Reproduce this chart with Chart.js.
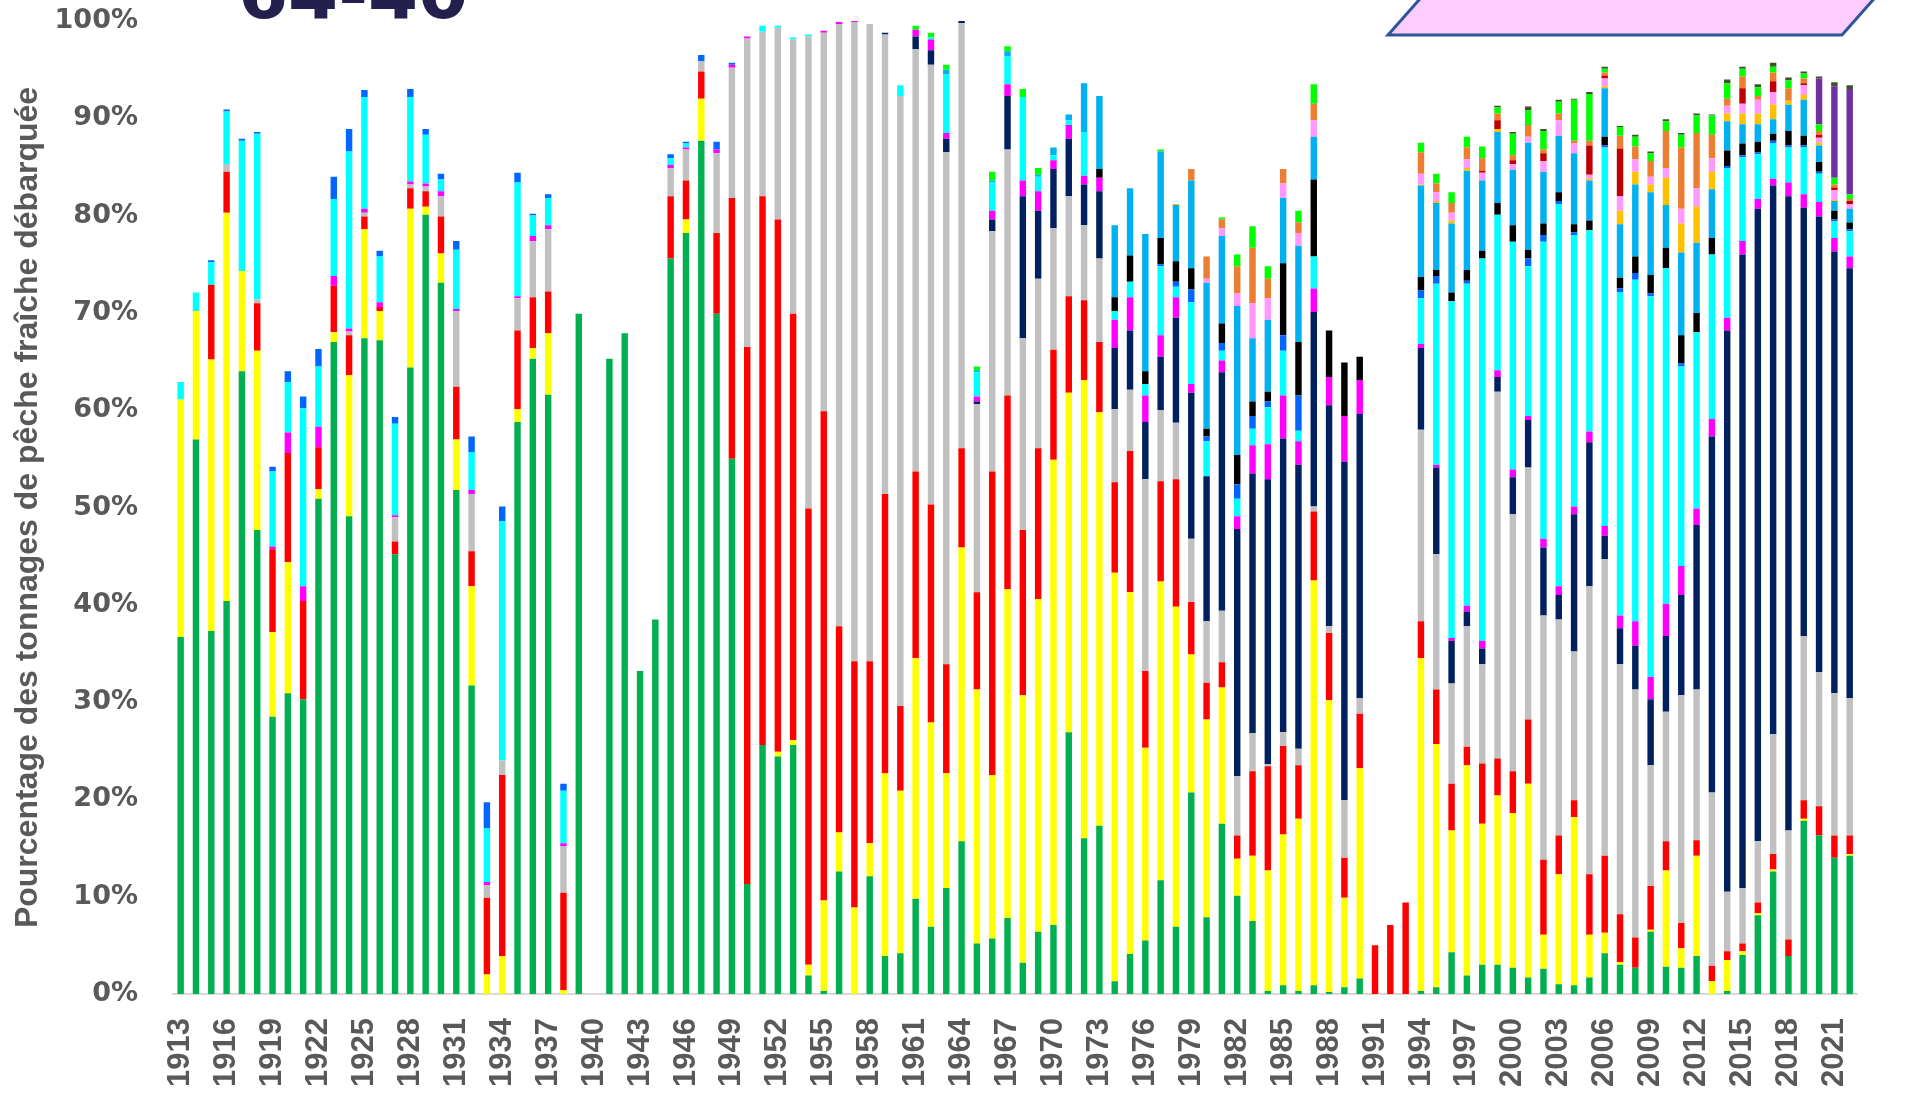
<!DOCTYPE html>
<html>
<head>
<meta charset="utf-8">
<script src="https://cdn.jsdelivr.net/npm/chart.js@4"></script>
<style>
  html, body { margin: 0; background: #fff; }
  #wrap { width: 1911px; height: 1101px; position: relative; }
</style>
</head>
<body>
<div id="wrap"><canvas id="chart"></canvas></div>
<script>
// années 1913 -> 2022
const years = [
  1913, 1914, 1915, 1916, 1917, 1918, 1919,
  1920, 1921, 1922, 1923, 1924, 1925, 1926, 1927, 1928, 1929,
  1930, 1931, 1932, 1933, 1934, 1935, 1936, 1937, 1938, 1939,
  1940, 1941, 1942, 1943, 1944, 1945, 1946, 1947, 1948, 1949,
  1950, 1951, 1952, 1953, 1954, 1955, 1956, 1957, 1958, 1959,
  1960, 1961, 1962, 1963, 1964, 1965, 1966, 1967, 1968, 1969,
  1970, 1971, 1972, 1973, 1974, 1975, 1976, 1977, 1978, 1979,
  1980, 1981, 1982, 1983, 1984, 1985, 1986, 1987, 1988, 1989,
  1990, 1991, 1992, 1993, 1994, 1995, 1996, 1997, 1998, 1999,
  2000, 2001, 2002, 2003, 2004, 2005, 2006, 2007, 2008, 2009,
  2010, 2011, 2012, 2013, 2014, 2015, 2016, 2017, 2018, 2019,
  2020, 2021, 2022
];

// libellés affichés sur l'axe des x (une année sur trois)
const tickYears = [
  1913, 1916, 1919, 1922, 1925, 1928, 1931, 1934, 1937, 1940, 1943, 1946, 1949,
  1952, 1955, 1958, 1961, 1964, 1967, 1970, 1973, 1976, 1979, 1982, 1985, 1988,
  1991, 1994, 1997, 2000, 2003, 2006, 2009, 2012, 2015, 2018, 2021
];
const yTicks = [0, 10, 20, 30, 40, 50, 60, 70, 80, 90, 100];

// parts en % (lecture du graphique), du bas vers le haut de la pile
const green = [
  36.7, 57, 37.3, 40.4, 64, 47.7, 28.5,
  30.9, 30.3, 50.9, 67, 49.1, 67.4, 67.2, 45.2, 64.4, 80.1,
  73.1, 51.8, 31.7, 0, 0, 58.8, 65.3, 61.6, 0, 69.9,
  0, 65.3, 67.9, 33.2, 38.5, 75.6, 78.2, 87.7, 69.9, 55,
  11.3, 25.6, 24.4, 25.6, 1.9, 0.3, 12.6, 0, 12.1, 3.9,
  4.2, 9.8, 6.9, 10.9, 15.7, 5.2, 5.7, 7.8, 3.2, 6.4,
  7.1, 26.9, 16, 17.3, 1.3, 4.1, 5.5, 11.7, 6.9, 20.7,
  7.9, 17.5, 10.1, 7.5, 0.3, 0.9, 0.3, 0.9, 0.2, 0.7,
  1.6, 0, 0, 0, 0.3, 0.7, 4.3, 1.9, 3, 3,
  2.7, 1.7, 2.6, 1, 0.9, 1.7, 4.2, 3, 2.7, 6.4,
  2.8, 2.7, 3.9, 0, 0.3, 4, 8.1, 12.6, 3.9, 17.8,
  16.3, 14, 14.2
];
const yellow = [
  24.4, 13.2, 27.9, 39.9, 10.3, 18.4, 8.7,
  13.5, 0, 1, 1, 14.5, 11.2, 3, 0, 16.3, 0.8,
  3, 5.2, 10.2, 2, 3.9, 1.3, 1.1, 6.3, 0.4, 0,
  0, 0, 0, 0, 0, 0, 1.4, 4.3, 0, 0,
  0, 0, 0.5, 0.5, 1.1, 9.3, 4, 8.9, 3.4, 18.8,
  16.7, 24.7, 21, 11.8, 30.2, 26.1, 16.8, 33.8, 27.5, 34.2,
  47.8, 34.9, 47.1, 42.5, 42, 37.2, 19.8, 30.7, 32.9, 14.2,
  20.3, 14, 3.8, 6.7, 12.4, 15.5, 17.7, 41.6, 30, 9.2,
  21.6, 0, 0, 0, 34.2, 25, 12.5, 21.6, 14.5, 17.4,
  15.9, 19.9, 3.5, 11.3, 17.3, 4.4, 2.1, 0.3, 0, 0.2,
  9.9, 2, 10.3, 1.3, 3.2, 0.4, 0.2, 0.2, 0, 0.2,
  0, 0, 0.2
];
const red = [
  0, 0, 7.7, 4.2, 0, 4.9, 8.5,
  11.2, 10.1, 4.3, 4.8, 4.1, 1.3, 0.4, 1.3, 2.1, 1.6,
  3.8, 5.4, 3.6, 7.9, 18.6, 8.1, 5.2, 4.3, 10, 0,
  0, 0, 0, 0, 0, 6.4, 4, 2.8, 8.3, 26.8,
  55.2, 56.4, 54.7, 43.8, 46.9, 50.3, 21.2, 25.3, 18.7, 28.7,
  8.7, 19.2, 22.4, 11.2, 10.2, 10, 31.2, 19.9, 17, 15.5,
  11.3, 9.9, 8.2, 7.2, 9.3, 14.5, 7.9, 10.3, 13.1, 5.4,
  3.8, 2.6, 2.4, 8.7, 10.7, 9.1, 5.5, 7.1, 6.9, 4.1,
  5.6, 5, 7.1, 9.4, 3.8, 5.6, 4.8, 1.9, 6.2, 3.8,
  4.3, 6.6, 7.7, 4, 1.7, 6.2, 7.9, 4.9, 3.1, 4.5,
  3, 2.6, 1.6, 1.6, 0.9, 0.8, 1.1, 1.6, 1.7, 1.9,
  3, 2.3, 1.9
];
const gray = [
  0, 0, 0, 0.8, 0, 0.4, 0,
  0, 0, 0, 0, 0.4, 0.4, 0, 2.5, 0.4, 0.5,
  2.1, 7.8, 5.9, 1.3, 1.5, 3.3, 5.8, 6.4, 4.8, 0,
  0, 0, 0, 0, 0, 2.9, 3.2, 1.1, 8.2, 13.4,
  31.7, 16.9, 19.7, 28.2, 48.5, 38.9, 61.9, 65.7, 65.5, 47.2,
  62.7, 43.4, 45.2, 52.6, 43.7, 19.3, 24.7, 25.3, 19.7, 17.4,
  12.5, 10.3, 7.7, 8.6, 7.5, 6.3, 19.7, 7.3, 5.8, 6.5,
  6.3, 5.3, 6.1, 3.9, 0.2, 1.4, 1.7, 0.5, 0.7, 5.9,
  1.6, 0, 0, 0, 19.7, 13.9, 10.3, 12.4, 10.2, 37.7,
  26.4, 25.9, 25.1, 22.2, 15.3, 29.6, 30.5, 25.7, 25.5, 12.4,
  13.3, 23.4, 15.5, 17.8, 6.1, 5.7, 6.3, 12.3, 11.2, 16.9,
  13.8, 14.6, 14.1
];
const navy = [
  0, 0, 0, 0, 0, 0, 0,
  0, 0, 0, 0, 0, 0, 0, 0, 0, 0,
  0, 0, 0, 0, 0, 0, 0, 0, 0, 0,
  0, 0, 0, 0, 0, 0, 0, 0, 0, 0,
  0, 0, 0, 0, 0, 0, 0, 0, 0, 0.2,
  0, 1.3, 1.5, 1.4, 0.2, 0.3, 1.2, 5.5, 14.6, 7,
  6.1, 5.9, 4.2, 6.9, 6.3, 6.1, 5.9, 5.5, 10.8, 15,
  14.9, 24.5, 25.4, 26.7, 29.3, 30.2, 29.2, 20, 22.7, 34.8,
  29.2, 0, 0, 0, 8.4, 8.9, 4.4, 1.5, 1.6, 1.5,
  3.8, 4.9, 7, 2.5, 14.1, 14.8, 2.4, 3.7, 4.5, 6.8,
  7.8, 10.3, 16.9, 36.6, 57.7, 65.1, 65, 56.4, 65.2, 44,
  46.8, 45.4, 44.2
];
const magenta = [
  0, 0, 0, 0, 0, 0, 0.3,
  2.1, 1.5, 2.1, 1, 0.3, 0.4, 0.5, 0.2, 0.3, 0.3,
  0.5, 0.2, 0.4, 0.3, 0, 0.2, 0.5, 0.4, 0.3, 0,
  0, 0, 0, 0, 0, 0.3, 0.2, 0, 0.4, 0.3,
  0.2, 0, 0, 0, 0, 0.2, 0.2, 0.1, 0, 0,
  0, 0.7, 1.1, 0.6, 0, 0.5, 0.9, 1.2, 1.6, 2,
  0.9, 1.4, 0.9, 1.4, 2.9, 3.4, 2.7, 2.2, 2.1, 0.9,
  0, 1.2, 1.3, 2.9, 3.6, 4.4, 2.4, 2.4, 2.9, 4.7,
  3.5, 0, 0, 0, 0.4, 0.3, 0.3, 0.6, 0.8, 0.7,
  0.8, 0.4, 0.9, 0.9, 0.8, 1.1, 1, 1.3, 2.5, 2.3,
  3.3, 3, 1.7, 1.8, 1.3, 1.4, 1, 0.7, 1.4, 1.4,
  1.5, 1.4, 1.2
];
const cyan = [
  1.8, 1.9, 2.3, 5.4, 13.4, 17, 7.7,
  5.2, 18.3, 6.2, 7.9, 18.2, 11.5, 4.7, 9.4, 8.7, 5,
  1.2, 6.1, 3.9, 5.5, 24.6, 11.7, 2.1, 2.8, 5.4, 0,
  0, 0, 0, 0, 0, 0.7, 0.4, 0, 0, 0,
  0, 0.6, 0.2, 0.2, 0.2, 0, 0, 0, 0, 0,
  1.1, 0, 0.2, 6, 0, 2.5, 2.9, 2.9, 8.6, 1.5,
  0.5, 0.5, 4.5, 0, 0.9, 1.6, 1.2, 7.1, 1.1, 8.4,
  3.6, 1, 1.8, 1.7, 3.8, 4.6, 1.1, 3.3, 0, 0,
  0, 0, 0, 0, 4.7, 18.6, 34.6, 33.1, 39.3, 16,
  23.4, 15.4, 30.5, 39.3, 27.9, 20.7, 38.9, 33.2, 35.1, 39.1,
  34.5, 20.5, 18.1, 16.9, 15.4, 8.6, 4.6, 3.6, 3.6, 4.8,
  2.9, 1.7, 2.6
];
const blue = [
  0, 0, 0.2, 0.2, 0.2, 0.2, 0.5,
  1.1, 1.2, 1.8, 2.3, 2.3, 0.7, 0.6, 0.7, 0.8, 0.6,
  0.6, 0.9, 1.6, 2.7, 1.5, 1, 0.2, 0.4, 0.7, 0,
  0, 0, 0, 0, 0, 0.4, 0.2, 0.6, 0.8, 0.2,
  0, 0, 0, 0, 0, 0, 0, 0, 0, 0,
  0, 0, 0, 0, 0, 0, 0, 0, 0, 0,
  0, 0, 0, 0, 0, 0, 0, 0.2, 0.5, 1.3,
  0.5, 0.8, 1.5, 1.3, 0.6, 1.6, 3.6, 0, 0, 0,
  0, 0, 0, 0, 0.8, 0.8, 0, 0.3, 0, 0,
  0, 0.8, 0.7, 0.3, 0.3, 0, 0.2, 0.4, 0.7, 0.3,
  0, 0.3, 0, 0, 0.2, 0.2, 0.2, 0.3, 0.2, 0.2,
  0.2, 0.2, 0.2
];
const black = [
  0, 0, 0, 0, 0, 0, 0,
  0, 0, 0, 0, 0, 0, 0, 0, 0, 0,
  0, 0, 0, 0, 0, 0, 0, 0, 0, 0,
  0, 0, 0, 0, 0, 0, 0, 0, 0, 0,
  0, 0, 0, 0, 0, 0, 0, 0, 0, 0,
  0, 0, 0, 0, 0, 0, 0, 0, 0, 0,
  0, 0, 0, 0.9, 1.4, 2.7, 1.3, 2.7, 2.1, 2.2,
  0.8, 2, 3, 1.5, 1, 7.4, 5.5, 7.9, 4.8, 5.5,
  2.4, 0, 0, 0, 1.4, 0.6, 0.9, 1.1, 0.8, 1.2,
  1.7, 0.9, 1.2, 0.9, 0.8, 1, 0.9, 1.1, 1.7, 1.9,
  2.1, 2.9, 2, 1.7, 1.6, 1.2, 1.1, 0.7, 1.5, 1,
  1, 0.9, 0.7
];
const skyblue = [
  0, 0, 0, 0, 0, 0, 0,
  0, 0, 0, 0, 0, 0, 0, 0, 0, 0,
  0, 0, 0, 0, 0, 0, 0, 0, 0, 0,
  0, 0, 0, 0, 0, 0, 0, 0, 0, 0,
  0, 0, 0, 0, 0, 0, 0, 0, 0, 0,
  0, 0, 0, 0.5, 0, 0.2, 0.2, 0.5, 0, 0.2,
  0.8, 0.6, 5, 7.5, 7.4, 6.9, 14.1, 8.9, 5.8, 9,
  15, 9, 15.3, 6.5, 7.4, 6.7, 9.9, 4.4, 0, 0,
  0, 0, 0, 0, 9.4, 6.9, 7.1, 10.2, 7.2, 7.3,
  5.7, 11, 5.3, 5.8, 7.3, 4.1, 5, 5.5, 7.4, 8.5,
  4.4, 8.5, 7.2, 5, 3, 2, 1.8, 1.5, 2.7, 3.7,
  1.7, 1, 1.4
];
const gold = [
  0, 0, 0, 0, 0, 0, 0,
  0, 0, 0, 0, 0, 0, 0, 0, 0, 0,
  0, 0, 0, 0, 0, 0, 0, 0, 0, 0,
  0, 0, 0, 0, 0, 0, 0, 0, 0, 0,
  0, 0, 0, 0, 0, 0, 0, 0, 0, 0,
  0, 0, 0, 0, 0, 0, 0, 0, 0, 0,
  0, 0, 0, 0, 0, 0, 0, 0, 0.1, 0,
  0, 0, 0, 0, 0, 0, 0, 0, 0, 0,
  0, 0, 0, 0, 0.1, 0.2, 0.3, 0.3, 0, 0.3,
  0, 0, 0, 0, 0, 0.2, 0.2, 1.4, 1.3, 0.8,
  2.8, 3, 3.7, 1.8, 0.8, 1.1, 1.1, 1.5, 0.4, 0.5,
  0.3, 0.1, 0
];
const pink = [
  0, 0, 0, 0, 0, 0, 0,
  0, 0, 0, 0, 0, 0, 0, 0, 0, 0,
  0, 0, 0, 0, 0, 0, 0, 0, 0, 0,
  0, 0, 0, 0, 0, 0, 0, 0, 0, 0,
  0, 0, 0, 0, 0, 0, 0, 0, 0, 0,
  0, 0, 0, 0, 0, 0, 0, 0, 0, 0,
  0, 0, 0, 0, 0, 0, 0, 0, 0, 0,
  0.4, 0.8, 1.3, 3.6, 2.2, 1.5, 1.3, 1.7, 0, 0,
  0, 0, 0, 0, 1.1, 0.9, 0.8, 0.9, 0.8, 0,
  0.6, 0.6, 1.1, 1.6, 1, 0.4, 0.8, 1.5, 1.3, 0.8,
  1, 1.5, 1.9, 1.4, 0.8, 1, 1.4, 1.3, 0, 1,
  0.5, 1, 0.5
];
const darkred = [
  0, 0, 0, 0, 0, 0, 0,
  0, 0, 0, 0, 0, 0, 0, 0, 0, 0,
  0, 0, 0, 0, 0, 0, 0, 0, 0, 0,
  0, 0, 0, 0, 0, 0, 0, 0, 0, 0,
  0, 0, 0, 0, 0, 0, 0, 0, 0, 0,
  0, 0, 0, 0, 0, 0, 0, 0, 0, 0,
  0, 0, 0, 0, 0, 0, 0, 0, 0, 0,
  0, 0, 0, 0, 0, 0, 0, 0, 0, 0,
  0, 0, 0, 0, 0, 0, 0, 0, 0.2, 0.9,
  0.4, 0, 0.8, 0, 0, 3, 0.3, 4.9, 0, 0,
  0, 0, 0, 0, 0, 1.6, 0, 1.1, 0, 0.2,
  0.3, 0.3, 0.3
];
const orange = [
  0, 0, 0, 0, 0, 0, 0,
  0, 0, 0, 0, 0, 0, 0, 0, 0, 0,
  0, 0, 0, 0, 0, 0, 0, 0, 0, 0,
  0, 0, 0, 0, 0, 0, 0, 0, 0, 0,
  0, 0, 0, 0, 0, 0, 0, 0, 0, 0,
  0, 0, 0, 0, 0, 0, 0, 0, 0, 0,
  0, 0, 0, 0, 0, 0, 0, 0, 0, 1.2,
  2.3, 0.9, 2.8, 5.7, 2, 1.5, 1.1, 1.7, 0, 0,
  0, 0, 0, 0, 2.2, 0.9, 1, 1.2, 1.3, 0.7,
  0.5, 1.2, 0.4, 0.7, 0.3, 0.5, 0.3, 1.3, 1.3, 1.6,
  3.8, 6.3, 5.7, 2.4, 0.7, 1.2, 0.4, 0.9, 1.3, 0.5,
  0.4, 0.3, 0.2
];
const lime = [
  0, 0, 0, 0, 0, 0, 0,
  0, 0, 0, 0, 0, 0, 0, 0, 0, 0,
  0, 0, 0, 0, 0, 0, 0, 0, 0, 0,
  0, 0, 0, 0, 0, 0, 0, 0, 0, 0,
  0, 0, 0, 0, 0, 0, 0, 0, 0, 0,
  0, 0.4, 0.5, 0.5, 0, 0.4, 0.9, 0.5, 0.8, 0.7,
  0, 0, 0, 0, 0, 0, 0, 0.2, 0, 0,
  0, 0.2, 1.2, 2.2, 1.3, 0, 1.2, 2, 0, 0,
  0, 0, 0, 0, 1, 1, 1.1, 1.1, 1.2, 0.6,
  2.2, 1.5, 1.9, 1.2, 4.2, 4.8, 0.4, 0.9, 1, 0.8,
  1, 1.3, 1.8, 2, 1.6, 0.8, 0.9, 0.6, 0.8, 0.5,
  0.7, 0.7, 0.5
];
const purple = [
  0, 0, 0, 0, 0, 0, 0,
  0, 0, 0, 0, 0, 0, 0, 0, 0, 0,
  0, 0, 0, 0, 0, 0, 0, 0, 0, 0,
  0, 0, 0, 0, 0, 0, 0, 0, 0, 0,
  0, 0, 0, 0, 0, 0, 0, 0, 0, 0,
  0, 0, 0, 0, 0, 0, 0, 0, 0, 0,
  0, 0, 0, 0, 0, 0, 0, 0, 0, 0,
  0, 0, 0, 0, 0, 0, 0, 0, 0, 0,
  0, 0, 0, 0, 0, 0, 0, 0, 0, 0,
  0, 0, 0, 0, 0, 0, 0, 0, 0, 0,
  0, 0, 0, 0, 0, 0, 0, 0, 0, 0,
  4.7, 9.4, 10.8
];
const olive = [
  0, 0, 0, 0, 0, 0, 0,
  0, 0, 0, 0, 0, 0, 0, 0, 0, 0,
  0, 0, 0, 0, 0, 0, 0, 0, 0, 0,
  0, 0, 0, 0, 0, 0, 0, 0, 0, 0,
  0, 0, 0, 0, 0, 0, 0, 0, 0, 0,
  0, 0, 0, 0, 0, 0, 0, 0, 0, 0,
  0, 0, 0, 0, 0, 0, 0, 0, 0, 0,
  0, 0, 0, 0, 0, 0, 0, 0, 0, 0,
  0, 0, 0, 0, 0, 0, 0, 0, 0, 0.2,
  0.2, 0.4, 0.2, 0.2, 0.1, 0.2, 0.2, 0.1, 0.2, 0.2,
  0.2, 0.2, 0.2, 0.1, 0.4, 0.2, 0.3, 0.4, 0.3, 0.2,
  0.2, 0.4, 0.4
];

const series = [
  ['vert', green, '#00B050'],
  ['jaune', yellow, '#FFFF00'],
  ['rouge', red, '#FF0000'],
  ['gris', gray, '#C0C0C0'],
  ['marine', navy, '#002060'],
  ['magenta', magenta, '#FF00FF'],
  ['cyan', cyan, '#00FFFF'],
  ['bleu', blue, '#0066FF'],
  ['noir', black, '#000000'],
  ['bleu ciel', skyblue, '#00B0F0'],
  ['or', gold, '#FFC000'],
  ['rose', pink, '#FF99FF'],
  ['rouge foncé', darkred, '#C00000'],
  ['orange', orange, '#ED7D31'],
  ['vert clair', lime, '#00FF00'],
  ['violet', purple, '#7030A0'],
  ['olive', olive, '#3D5229']
];

// titre partiellement coupé et cadre rose en haut à droite
const decor = {
  id: 'decor',
  afterDraw(chart) {
    const c = chart.ctx;
    c.save();
    c.beginPath();
    c.moveTo(1388, 35);
    c.lineTo(1842, 35);
    c.lineTo(1880, -8);
    c.lineTo(1426, -8);
    c.closePath();
    c.fillStyle = '#FFCCFF';
    c.fill();
    c.lineWidth = 3;
    c.strokeStyle = '#2F5597';
    c.stroke();

    c.font = 'bold 72px "DejaVu Sans"';
    c.fillStyle = '#24204E';
    c.textBaseline = 'alphabetic';
    c.fillText('64-40', 238, 18);
    c.restore();
  }
};

new Chart(document.getElementById('chart'), {
  type: 'bar',
  data: {
    labels: years.map(String),
    datasets: series.map(([name, values, color]) => ({
      label: name,
      data: values,
      backgroundColor: color,
      borderWidth: 0,
      barPercentage: 0.42,
      categoryPercentage: 1
    }))
  },
  options: {
    responsive: true,
    maintainAspectRatio: false,
    animation: false,
    layout: { padding: { top: 21, right: 22, left: 0, bottom: 0 } },
    plugins: {
      legend: { display: false },
      tooltip: { enabled: false }
    },
    scales: {
      x: {
        stacked: true,
        grid: { display: false, drawTicks: false },
        border: { display: true, color: '#D9D9D9', width: 2 },
        afterFit: (s) => { s.height = 107; s.paddingTop = 0; s.paddingBottom = 0; },
        ticks: {
          autoSkip: false,
          minRotation: 90,
          maxRotation: 90,
          padding: 24,
          color: '#595959',
          font: { family: 'Liberation Sans', size: 31, weight: 'bold' },
          callback: (v, i) => tickYears.includes(years[i]) ? String(years[i]) : ''
        }
      },
      y: {
        stacked: true,
        min: 0,
        max: 100,
        grid: { display: false, drawTicks: false },
        border: { display: false },
        afterFit: (s) => { s.width = 173; s.paddingTop = 0; s.paddingBottom = 0; },
        afterBuildTicks: (s) => { s.ticks = yTicks.map(v => ({ value: v })); },
        ticks: {
          padding: 35,
          color: '#595959',
          font: { family: 'DejaVu Sans', size: 27, weight: 'bold' },
          callback: (v) => v + '%'
        },
        title: {
          display: true,
          text: 'Pourcentage des tonnages de pêche fraîche débarquée',
          color: '#595959',
          font: { family: 'Liberation Sans', size: 32, weight: 'bold' },
          padding: { top: 9, bottom: 0 }
        }
      }
    }
  },
  plugins: [decor]
});
</script>
</body>
</html>
